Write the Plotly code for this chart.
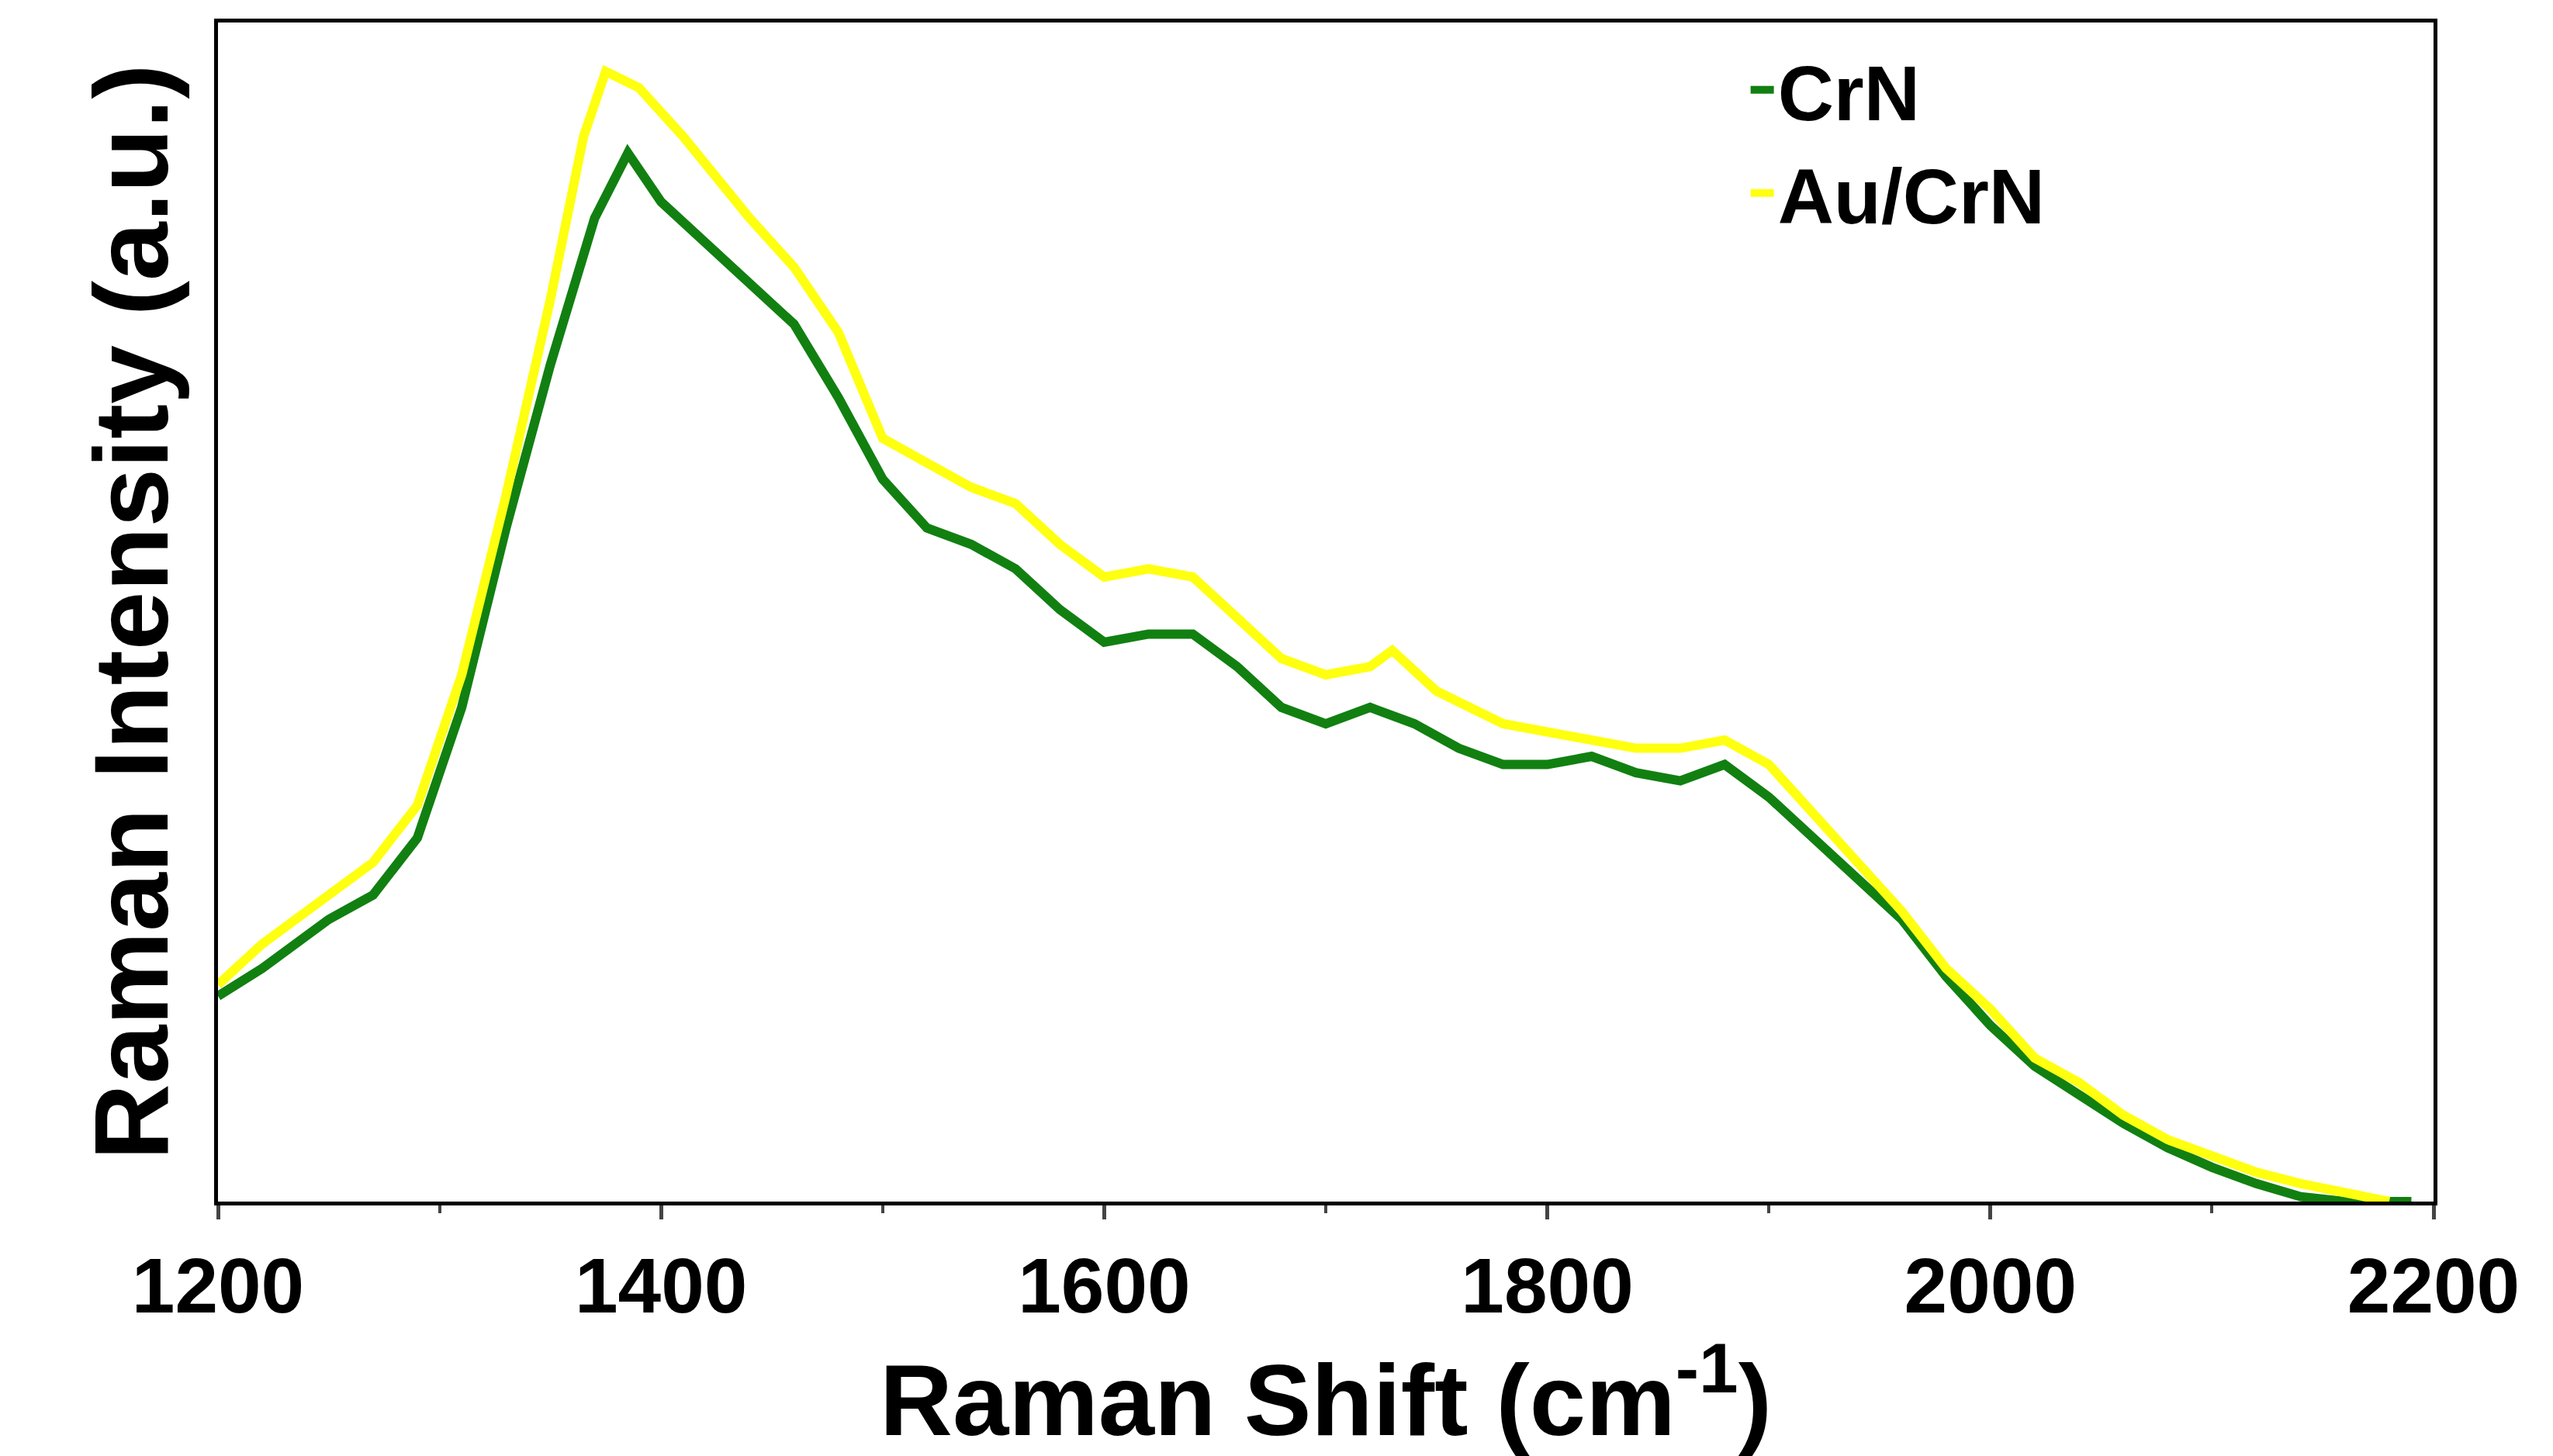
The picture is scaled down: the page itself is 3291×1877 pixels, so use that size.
import plotly.graph_objects as go

shift_crn = [1200,1220,1250,1270,1290,1310,1330,1350,1370,1385,1400,1420,1440,1460,1480,1500,1520,1540,1560,1580,1600,1620,1640,1660,1680,1700,1720,1740,1760,1780,1800,1820,1840,1860,1880,1900,1920,1940,1960,1980,2000,2020,2040,2060,2080,2100,2120,2140,2160,2190]
crn = [126,143,173,188,223,303,413,513,603,643,613,588,563,538,493,443,413,403,388,363,343,348,348,328,303,293,303,293,278,268,268,273,263,258,268,248,223,198,173,138,108,83,65,48,33,21,11,3,0,0]

shift_au = [1200,1220,1250,1270,1290,1310,1330,1350,1365,1375,1390,1410,1440,1460,1480,1500,1520,1540,1560,1580,1600,1620,1640,1660,1680,1700,1720,1730,1750,1780,1800,1820,1840,1860,1880,1900,1920,1940,1960,1980,2000,2020,2040,2060,2080,2100,2120,2140,2160,2180]
au = [133,158,188,208,243,323,433,553,653,693,683,653,603,573,533,468,453,438,428,403,383,388,383,358,333,323,328,338,313,293,288,283,278,278,283,268,238,208,178,143,118,88,73,53,38,28,18,11,5,0]

fig = go.Figure()
fig.add_trace(go.Scatter(x=shift_crn, y=crn, mode="lines", name="CrN",
                         line=dict(color="#118011", width=12)))
fig.add_trace(go.Scatter(x=shift_au, y=au, mode="lines", name="Au/CrN",
                         line=dict(color="#FFFF10", width=12)))

font = "Liberation Sans"
fig.update_layout(
    width=3291, height=1877,
    plot_bgcolor="white", paper_bgcolor="white",
    margin=dict(l=273, r=162, t=21, b=336),
    font=dict(family=font, color="black"),
    legend=dict(x=0.69, y=0.99, xanchor="left", yanchor="top",
                font=dict(size=100, family=font, weight="bold"),
                bgcolor="rgba(0,0,0,0)", entrywidth=420, tracegroupgap=0),
    showlegend=True,
)
fig.update_xaxes(range=[1200, 2200], tickvals=[1200,1400,1600,1800,2000,2200],
                 ticks="outside", ticklen=18, tickwidth=5,
                 minor=dict(dtick=100, ticks="outside", ticklen=10, tickwidth=4),
                 showline=True, linewidth=5, linecolor="black", mirror=True,
                 showgrid=False, zeroline=False,
                 tickfont=dict(size=100, family=font, weight="bold"),
                 title=dict(text="Raman Shift (cm<sup>-1</sup>)",
                            font=dict(size=130, family=font, weight="bold"), standoff=20))
fig.update_yaxes(range=[0, 723], showticklabels=False, ticks="",
                 showline=True, linewidth=5, linecolor="black", mirror=True,
                 showgrid=False, zeroline=False,
                 title=dict(text="Raman Intensity (a.u.)",
                            font=dict(size=136, family=font, weight="bold"), standoff=15))
fig.write_html("out.html")
